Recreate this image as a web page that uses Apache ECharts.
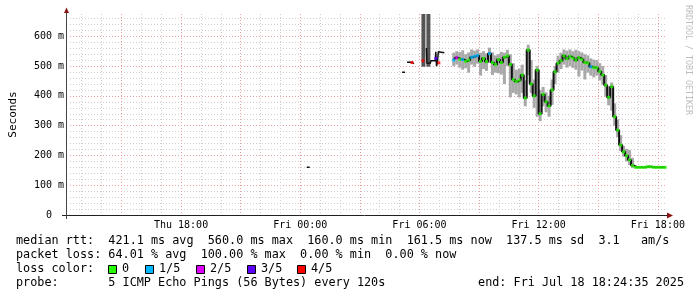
<!DOCTYPE html>
<html><head><meta charset="utf-8">
<script src="https://cdn.jsdelivr.net/npm/echarts@6/dist/echarts.min.js"></script>
<style>html,body{margin:0;padding:0;background:#fff}#c{width:697px;height:297px}</style>
</head><body><div id="c"></div>
<script>
// ---- axis ticks ----
const xTickHours = [18, 24, 30, 36, 42];           // hours since Thu 00:00
const xTickLabels = ['Thu 18:00', 'Fri 00:00', 'Fri 06:00', 'Fri 12:00', 'Fri 18:00'];
const yTickValues = [0, 100, 200, 300, 400, 500, 600];
const yTickLabels = ['0  ', '100 m', '200 m', '300 m', '400 m', '500 m', '600 m'];
const startHour = 12 + 24 / 60 + 35 / 3600;        // Thu 12:24:35
const endHour = startHour + 30;                    // Fri 18:24:35
const yMax = 675;

// ---- continuous block of samples (ms) ----
const blockStart = 31.725, blockStep = 0.15;
const blockMed = [520,528,523,522,516,520,530,533,536,516,
  526,515,542,512,505,522,512,530,534,505,
  455,448,453,470,393,554,440,400,487,340,
  405,380,366,420,481,510,518,535,525,532,
  527,520,528,522,512,510,498,495,494,482,
  470,436,395,431,330,285,235,212,199,185,
  166,160,160,160,160,162,162,160,160,160,
  160,160];
const blockLo = [500,505,495,488,493,478,505,498,508,468,
  490,484,510,470,478,476,472,440,500,395,
  410,405,395,410,365,470,410,360,330,315,
  365,345,330,370,440,478,490,505,495,500,
  494,488,465,485,455,478,468,462,468,452,
  438,398,368,350,300,262,215,196,180,168,
  158,157,158,158,158,159,159,158,158,158,
  158,158];
const blockHi = [545,550,547,553,540,546,556,552,556,545,
  550,543,562,546,536,540,548,545,555,540,
  510,488,492,505,452,572,520,455,500,420,
  430,412,400,455,500,535,545,556,552,556,
  550,555,550,546,540,536,526,522,520,510,
  500,470,432,445,375,320,268,232,222,218,
  192,166,163,163,163,166,166,163,163,163,
  163,163];
const blockLoss = [1,2,0,1,0,0,1,1,1,0,
  0,0,1,0,0,0,0,0,0,0,
  0,0,0,0,0,0,0,0,0,0,
  0,0,0,0,0,0,0,0,0,0,
  0,0,0,0,0,0,1,0,0,0,
  0,0,0,0,0,0,0,0,0,0,
  0,0,0,0,0,0,0,0,0,0,
  0,0];

// ---- sparse early samples ----
const sparseT =   [24.325,24.475,null, 29.125,29.275,null, 29.375,29.625,29.65,29.725,null, 30.35,30.375,30.55,30.575,30.8,30.82,30.86,30.9,30.95,31.25];
const sparseMed = [160,160,null, 479,479,null, 513,513,508,508,null, 561,510,510,518,518,548,500,511,548,545];
const markT = [29.625, 30.175, 30.825, 30.975];
const markMed = [512, 518, 526, 511];
const markLoss = [4, 4, 3, 4];
const tallT = [30.2, 30.45];
const tallLo = [498, 498];
const tallHi = [700, 700];

const lossColors = ['#26ff00', '#00b8ff', '#dd00ff', '#5e00ff', '#ff0000'];
const lossLabels = ['0', '1/5', '2/5', '3/5', '4/5'];
const statLine1 = 'median rtt:  421.1 ms avg  560.0 ms max  160.0 ms min  161.5 ms now  137.5 ms sd  3.1   am/s';
const statLine2 = 'packet loss: 64.01 % avg  100.00 % max  0.00 % min  0.00 % now';
const statLine3 = 'loss color:';
const statLine4 = 'probe:       5 ICMP Echo Pings (56 Bytes) every 120s';
const endText = 'end: Fri Jul 18 18:24:35 2025';
const watermark = 'RRDTOOL / TOBI OETIKER';

// ---- build ----
const blockT = blockMed.map((_, i) => blockStart + i * blockStep);
const smokeData = blockT.map((t, i) => [t, blockLo[i], blockHi[i], blockStep]);
const tallData = tallT.map((t, i) => [t, tallLo[i], tallHi[i], 0.2]);
const blockLine = blockT.map((t, i) => [t, blockMed[i]]);
const sparseLine = sparseT.map((t, i) => t === null ? [null, '-'] : [t, sparseMed[i]]);
const markers = blockT.map((t, i) => [t, blockMed[i], blockLoss[i]])
  .concat(markT.map((t, i) => [t, markMed[i], markLoss[i]]));

const MONO = '"DejaVu Sans Mono", monospace';
const minor = '#cfcfcf', major = '#e8a0a0';

function rangeRect(color) {
  return function (params, api) {
    const t = api.value(0), lo = api.value(1), hi = api.value(2), w = api.value(3);
    const a = api.coord([t - w / 2, hi]);
    const b = api.coord([t + w / 2, lo]);
    const cs = params.coordSys;
    const r = echarts.graphic.clipRectByRect(
      { x: a[0], y: a[1], width: b[0] - a[0], height: b[1] - a[1] },
      { x: cs.x, y: cs.y, width: cs.width, height: cs.height });
    if (!r) return null;
    return { type: 'rect', shape: r, style: { fill: color } };
  };
}

const chart = echarts.init(document.getElementById('c'), null, { renderer: 'canvas' });
const G = { left: 66, top: 14, width: 600, height: 201 };

const graphics = [];
// bottom texts
[[statLine1, 241], [statLine2, 255], [statLine3, 269], [statLine4, 283]].forEach(([s, y]) => {
  graphics.push({ type: 'text', x: 16, y: y, style: { text: s, font: '11.8px ' + MONO, fill: '#000', textVerticalAlign: 'middle' } });
});
graphics.push({ type: 'text', x: 684, y: 283, style: { text: endText, font: '11.8px ' + MONO, fill: '#000', textAlign: 'right', textVerticalAlign: 'middle' } });
const boxX = [108, 145, 196, 247, 297];
const lblX = [122, 159, 210, 261, 311];
lossColors.forEach((c, i) => {
  graphics.push({ type: 'rect', shape: { x: boxX[i] + 0.5, y: 265.5, width: 8, height: 8 }, style: { fill: c, stroke: '#000', lineWidth: 1 } });
  graphics.push({ type: 'text', x: lblX[i], y: 269, style: { text: lossLabels[i], font: '11.8px ' + MONO, fill: '#000', textVerticalAlign: 'middle' } });
});
// watermark
graphics.push({ type: 'text', x: 688, y: 5, rotation: -Math.PI / 2, style: { text: watermark, font: '8.3px ' + MONO, fill: '#bdbdbd', textVerticalAlign: 'middle' } });
// axis extensions and arrows
graphics.push({ type: 'line', shape: { x1: 62, y1: 215.5, x2: 667, y2: 215.5 }, style: { stroke: '#222', lineWidth: 1 }, z: 10 });
graphics.push({ type: 'line', shape: { x1: 66.5, y1: 12, x2: 66.5, y2: 219 }, style: { stroke: '#444', lineWidth: 1 }, z: 10 });
graphics.push({ type: 'polygon', shape: { points: [[64, 13], [66.5, 7.5], [69, 13]] }, style: { fill: '#8b1414' }, z: 11 });
graphics.push({ type: 'polygon', shape: { points: [[667, 212.5], [673, 215.5], [667, 218.5]] }, style: { fill: '#8b1414' }, z: 11 });

chart.setOption({
  animation: false,
  backgroundColor: '#fff',
  grid: G,
  xAxis: {
    type: 'value', min: startHour, max: endHour, splitNumber: 30, minInterval: 1, maxInterval: 1,
    axisLine: { show: false }, axisTick: { show: false },
    axisLabel: {
      showMinLabel: false, showMaxLabel: false, margin: 5,
      fontFamily: MONO, fontSize: 10, color: '#000',
      formatter: v => { const k = xTickHours.indexOf(Math.round(v * 1000) / 1000); return k >= 0 ? xTickLabels[k] : ''; }
    },
    splitLine: { show: true, showMinLine: false, showMaxLine: false, lineStyle: { color: [minor, minor, major], type: [1, 2], width: 1 } }
  },
  yAxis: {
    type: 'value', min: 0, max: yMax, interval: 20,
    name: 'Seconds', nameLocation: 'middle', nameGap: 51, nameRotate: 90,
    nameTextStyle: { fontFamily: MONO, fontSize: 11, color: '#000' },
    axisLine: { show: false }, axisTick: { show: false },
    axisLabel: {
      margin: 6, fontFamily: MONO, fontSize: 10, color: '#000', showMaxLabel: false,
      formatter: v => { const k = yTickValues.indexOf(v); return k >= 0 ? yTickLabels[k] : ''; }
    },
    splitLine: { show: true, showMinLine: false, showMaxLine: false, lineStyle: { color: [minor, minor, minor, minor, major], type: [1, 2], width: 1 } }
  },
  series: [
    { type: 'custom', renderItem: rangeRect('#a9a9a9'), data: smokeData, encode: { x: 0, y: [1, 2] }, z: 2, silent: true },
    { type: 'custom', renderItem: rangeRect('#555555'), data: tallData, encode: { x: 0, y: [1, 2] }, z: 2, silent: true },
    { type: 'line', data: blockLine, step: 'middle', showSymbol: false, lineStyle: { color: '#111', width: 2 }, z: 3, silent: true },
    { type: 'line', data: sparseLine, connectNulls: false, showSymbol: false, lineStyle: { color: '#111', width: 1.5 }, z: 3, silent: true },
    { type: 'scatter', data: markers, symbol: 'rect', symbolSize: [3, 3], z: 4, silent: true,
      itemStyle: { color: p => lossColors[p.value[2]] } }
  ],
  graphic: graphics
});
</script></body></html>
